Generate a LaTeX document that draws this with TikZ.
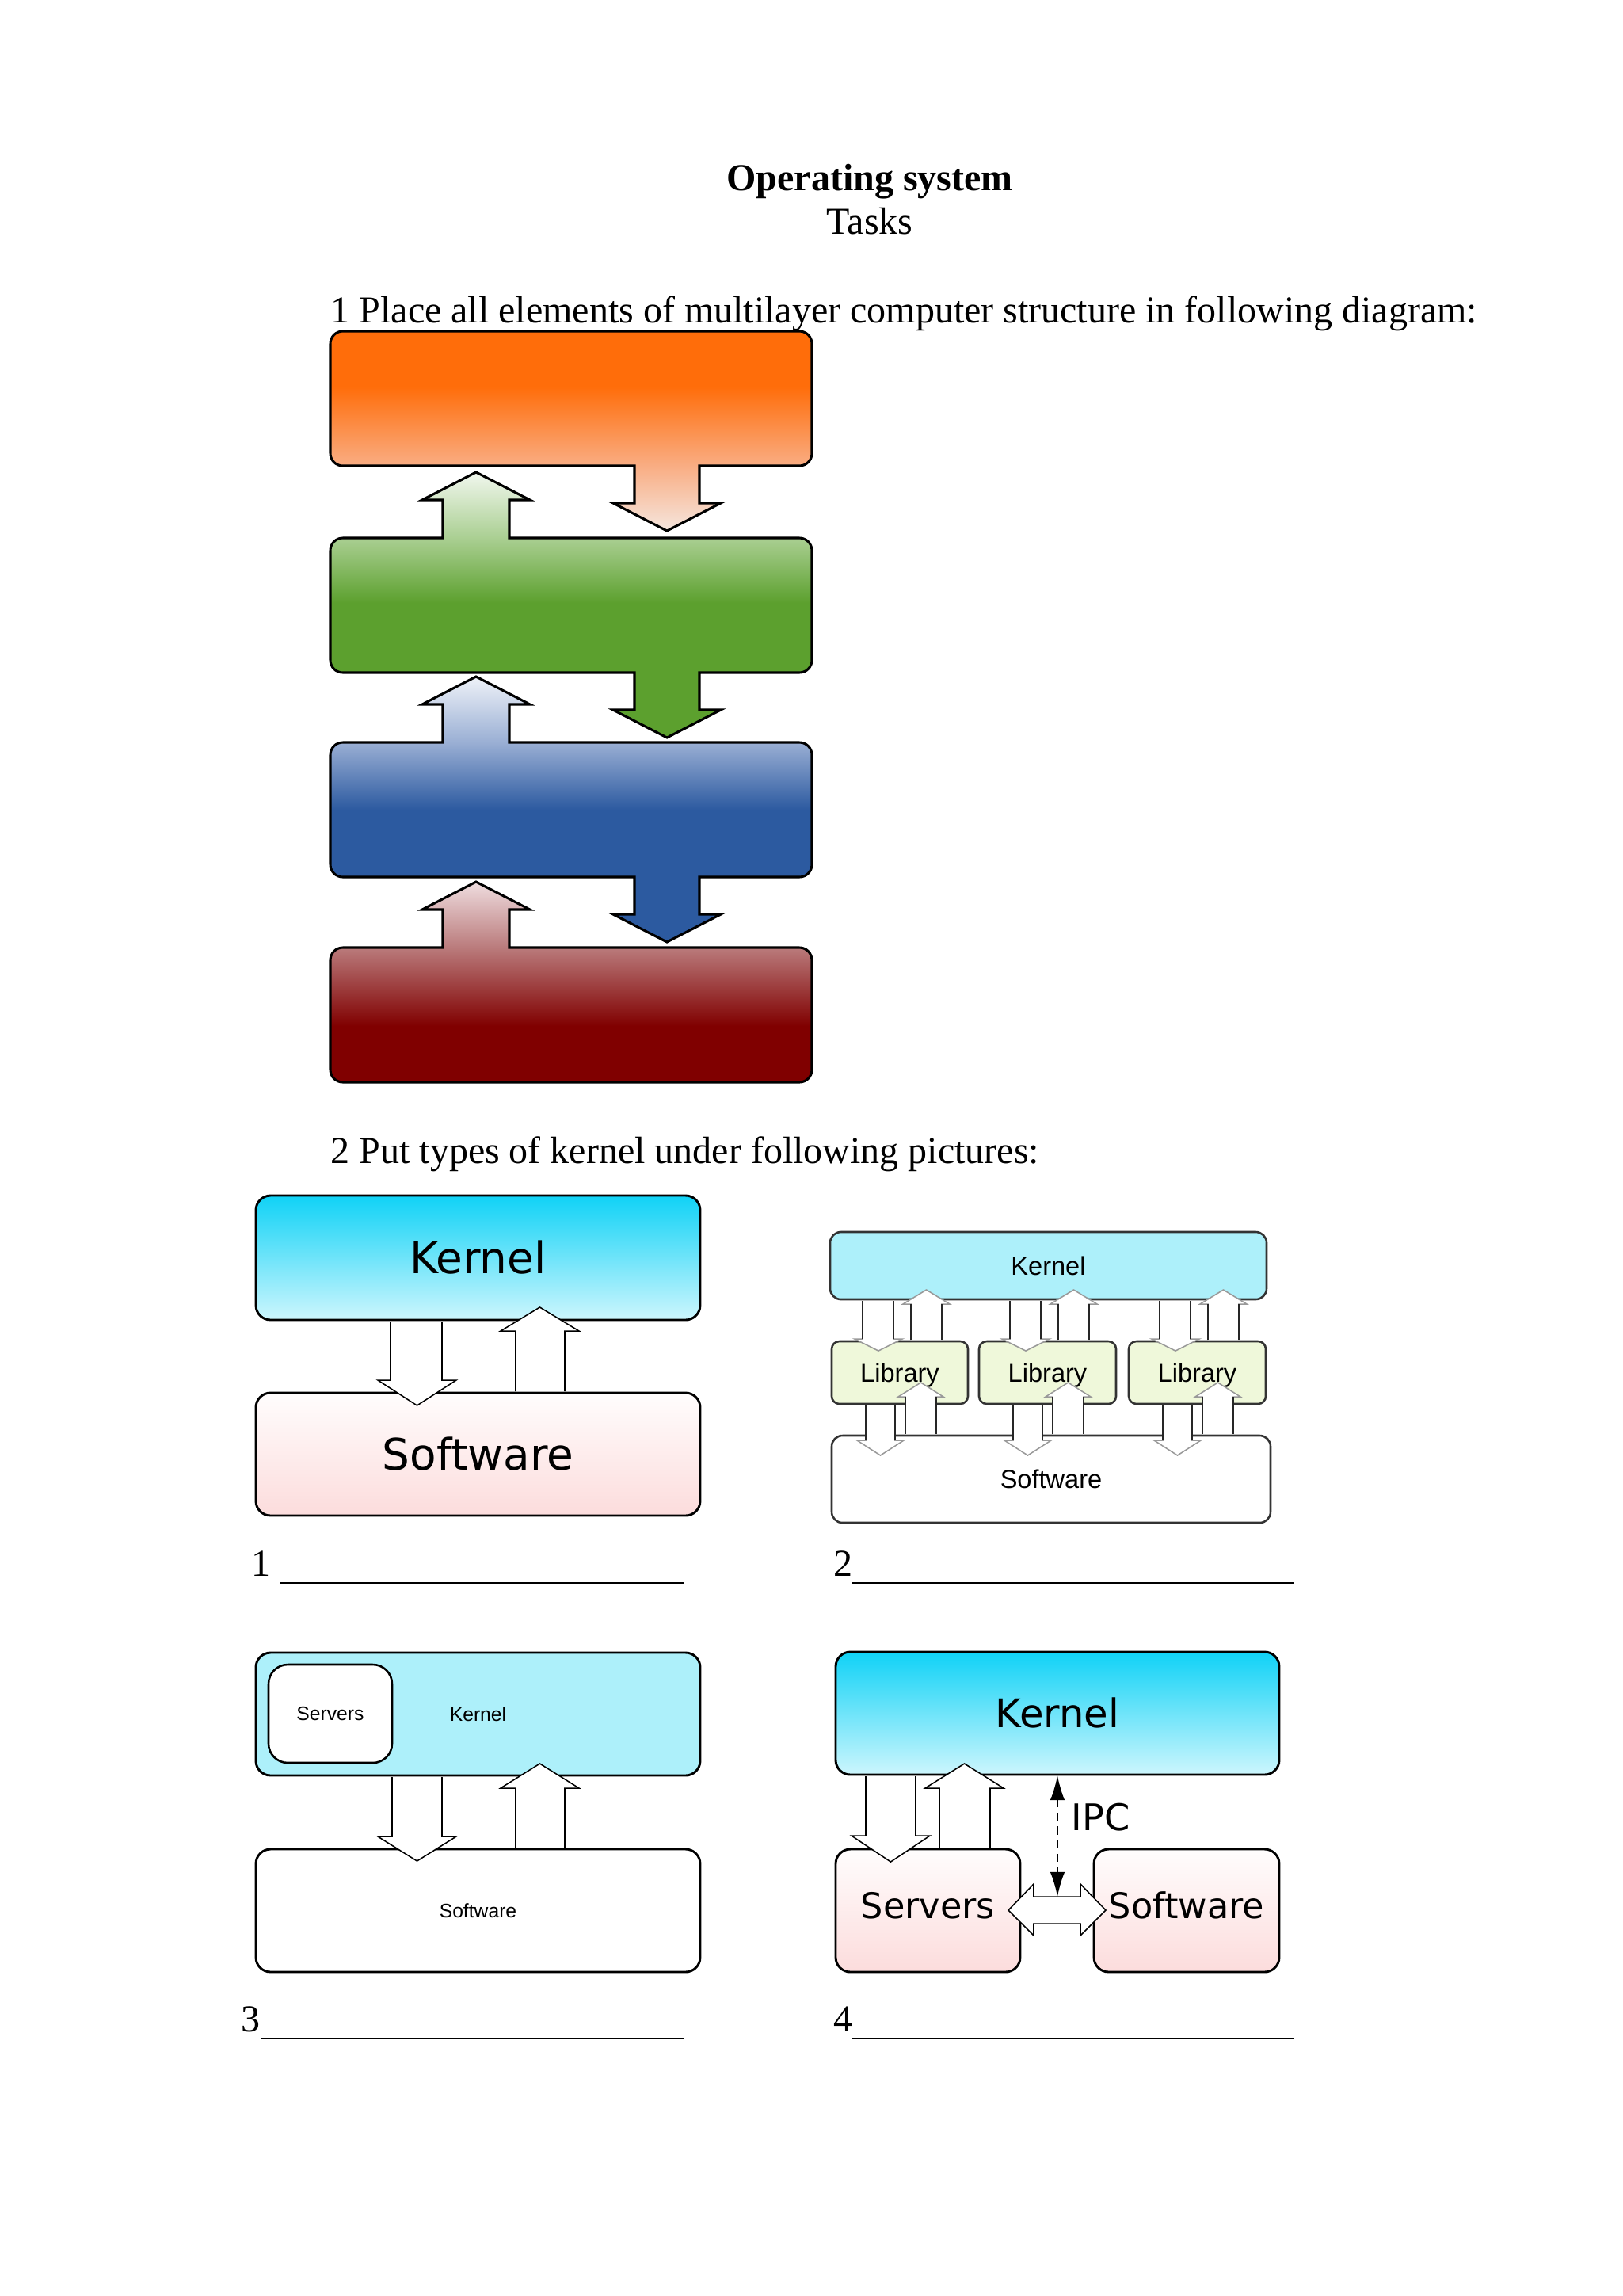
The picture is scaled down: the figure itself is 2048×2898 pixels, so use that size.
\documentclass[tikz,border=0pt]{standalone}
\usepackage{fontspec}
\setmainfont{Liberation Serif}
\newfontfamily\djv{DejaVu Sans}
\newfontfamily\lsans{Liberation Sans}
\usetikzlibrary{arrows.meta}
\newlength\pxu
\setlength\pxu{0.1025390625mm}
% layer colours
\definecolor{orA}{HTML}{FF6D0A}\definecolor{orB}{HTML}{F9AD83}\definecolor{orC}{HTML}{F5E6DE}
\definecolor{grA}{HTML}{F1F7EE}\definecolor{grB}{HTML}{AACF92}\definecolor{grC}{HTML}{5CA02E}
\definecolor{blA}{HTML}{EEF2F8}\definecolor{blB}{HTML}{9AAFD4}\definecolor{blC}{HTML}{2C5AA0}
\definecolor{rdA}{HTML}{EFDDDF}\definecolor{rdB}{HTML}{BA7B7C}\definecolor{rdC}{HTML}{800000}
\definecolor{kTop}{HTML}{10D2F6}\definecolor{kBot}{HTML}{CDF6FD}
\definecolor{sTop}{HTML}{FFFDFD}\definecolor{sBot}{HTML}{FCDCDC}
\definecolor{kflat}{HTML}{ADF0FA}\definecolor{libfill}{HTML}{EFF8DA}
\pgfdeclareverticalshading{orsh}{100bp}{color(0bp)=(orC); color(25bp)=(orC); color(41.3bp)=(orB); color(61.1bp)=(orA); color(100bp)=(orA)}
\pgfdeclareverticalshading{grsh}{100bp}{color(0bp)=(grC); color(50.4bp)=(grC); color(62.6bp)=(grB); color(75bp)=(grA); color(100bp)=(grA)}
\pgfdeclareverticalshading{blsh}{100bp}{color(0bp)=(blC); color(49.9bp)=(blC); color(62.6bp)=(blB); color(75bp)=(blA); color(100bp)=(blA)}
\pgfdeclareverticalshading{rdsh}{100bp}{color(0bp)=(rdC); color(39bp)=(rdC); color(58.6bp)=(rdB); color(75bp)=(rdA); color(100bp)=(rdA)}
% block arrow: shaft left, shaft right, head left, head right, y start, y head base, y tip
\newcommand\blockarrow[7]{\filldraw[blk] ({#1},#5) -- ({#1},#6) -- ({#3},#6) -- ({(#3+#4)/2},#7) -- ({#4},#6) -- ({#2},#6) -- ({#2},#5);}
\newcommand\blockarrowB[7]{\filldraw[blk, draw=black!40] ({#1},#5) -- ({#1},#6) -- ({#3},#6) -- ({(#3+#4)/2},#7) -- ({#4},#6) -- ({#2},#6) -- ({#2},#5);
  \draw[black!85, line width=0.45pt] ({#1},#5) -- ({#1},#6) ({#2},#5) -- ({#2},#6);}
\begin{document}
\begin{tikzpicture}[x=\pxu, y=-\pxu,
  txt/.style={font=\fontsize{14}{16}\selectfont, inner sep=0pt},
  layer/.style={draw=black, line width=0.9pt, line join=miter},
  blk/.style={fill=white, draw=black, line width=0.45pt, line join=miter},
  box/.style={draw=black, line width=0.85pt, rounded corners=1.9mm, inner sep=0pt, text depth=0pt},
  kgrad/.style={top color=kTop, bottom color=kBot},
  sgrad/.style={top color=sTop, bottom color=sBot},
  bigf/.style={font=\djv\fontsize{16}{16}\selectfont, text height=11.7pt},
  midf/.style={font=\lsans\fontsize{9.5}{10}\selectfont, text height=6.8pt},
  smallf/.style={font=\lsans\fontsize{7.2}{8}\selectfont, text height=5.2pt},
  uline/.style={line width=0.6pt}
]
\fill[white] (0,0) rectangle (2048,2898);
\useasboundingbox (0,0) rectangle (2048,2898);

% ---------- heading ----------
\node[txt, anchor=base, font=\fontsize{14}{16}\selectfont\bfseries] (title) at (1098,240) {Operating system};
\node[txt, anchor=base] (tasks) at (1098,295) {Tasks};
\node[txt, anchor=base west] (task1) at (417,407) {1 Place all elements of multilayer computer structure in following diagram:};

% ---------- layered diagram ----------
\begin{scope}[shift={(0,418)}]
\shadedraw[layer, shading=orsh] (433,0) -- (1009,0) .. controls (1018,0) and (1025,7) .. (1025,16) -- (1025,154) .. controls (1025,163) and (1018,170) .. (1009,170) -- (883,170) -- (883,217) -- (910,217) -- (842,252) -- (774,217) -- (801,217) -- (801,170) -- (433,170) .. controls (424,170) and (417,163) .. (417,154) -- (417,16) .. controls (417,7) and (424,0) .. (433,0) -- cycle;
\end{scope}
\begin{scope}[shift={(0,679)}]
\shadedraw[layer, shading=grsh] (433,0) -- (559,0) -- (559,-48) -- (533,-48) -- (601,-83) -- (669,-48) -- (643,-48) -- (643,0) -- (1009,0) .. controls (1018,0) and (1025,7) .. (1025,16) -- (1025,154) .. controls (1025,163) and (1018,170) .. (1009,170) -- (883,170) -- (883,217) -- (910,217) -- (842,252) -- (774,217) -- (801,217) -- (801,170) -- (433,170) .. controls (424,170) and (417,163) .. (417,154) -- (417,16) .. controls (417,7) and (424,0) .. (433,0) -- cycle;
\end{scope}
\begin{scope}[shift={(0,937)}]
\shadedraw[layer, shading=blsh] (433,0) -- (559,0) -- (559,-48) -- (533,-48) -- (601,-83) -- (669,-48) -- (643,-48) -- (643,0) -- (1009,0) .. controls (1018,0) and (1025,7) .. (1025,16) -- (1025,154) .. controls (1025,163) and (1018,170) .. (1009,170) -- (883,170) -- (883,217) -- (910,217) -- (842,252) -- (774,217) -- (801,217) -- (801,170) -- (433,170) .. controls (424,170) and (417,163) .. (417,154) -- (417,16) .. controls (417,7) and (424,0) .. (433,0) -- cycle;
\end{scope}
\begin{scope}[shift={(0,1196)}]
\shadedraw[layer, shading=rdsh] (433,0) -- (559,0) -- (559,-48) -- (533,-48) -- (601,-83) -- (669,-48) -- (643,-48) -- (643,0) -- (1009,0) .. controls (1018,0) and (1025,7) .. (1025,16) -- (1025,154) .. controls (1025,163) and (1018,170) .. (1009,170) -- (433,170) .. controls (424,170) and (417,163) .. (417,154) -- (417,16) .. controls (417,7) and (424,0) .. (433,0) -- cycle;
\end{scope}

\node[txt, anchor=base west] (task2) at (417,1468) {2 Put types of kernel under following pictures:};

% ---------- picture 1 ----------
\node[box, kgrad, bigf, minimum width=561\pxu, minimum height=157\pxu] (k1) at (603.5,1587.5) {Kernel};
\node[box, sgrad, bigf, minimum width=561\pxu, minimum height=155\pxu] (s1) at (603.5,1835.5) {Software};
\blockarrow{493}{558}{477}{576}{1668}{1742}{1774}
\blockarrow{651}{713}{632}{731}{1756}{1680}{1650}
\node[txt, anchor=base west] (n1) at (317,1989) {1};
\coordinate (u1a) at (354,1998); \coordinate (u1b) at (863,1998);
\draw[uline] (u1a) -- (u1b);

% ---------- picture 2 ----------
\node[box, draw=black!80, fill=kflat, midf, rounded corners=1.4mm, line width=0.75pt, minimum width=551\pxu, minimum height=85\pxu] (k2) at (1323.5,1597.5) {Kernel};
\node[box, draw=black!80, fill=libfill, midf, rounded corners=1mm, line width=0.75pt, minimum width=172\pxu, minimum height=79\pxu] (la) at (1136,1732.5) {Library};
\node[box, draw=black!80, fill=libfill, midf, rounded corners=1mm, line width=0.75pt, minimum width=173\pxu, minimum height=79\pxu] (lb) at (1322.5,1732.5) {Library};
\node[box, draw=black!80, fill=libfill, midf, rounded corners=1mm, line width=0.75pt, minimum width=173\pxu, minimum height=79\pxu] (lc) at (1511.5,1732.5) {Library};
\node[box, draw=black!80, fill=white, midf, rounded corners=1.4mm, line width=0.75pt, minimum width=554\pxu, minimum height=110\pxu] (s2) at (1327,1867) {Software};
\foreach \L in {1050,1236,1425} {
  \blockarrowB{\L+39}{\L+78}{\L+29}{\L+89}{1642}{1690}{1705}
  \blockarrowB{\L+100}{\L+139}{\L+90}{\L+149}{1691}{1646}{1628}
  \blockarrowB{\L+43}{\L+80}{\L+32}{\L+91}{1774}{1818}{1837}
  \blockarrowB{\L+93}{\L+132}{\L+84}{\L+141}{1810}{1763}{1745}
}
\node[txt, anchor=base west] (n2) at (1052,1989) {2};
\coordinate (u2a) at (1076,1998); \coordinate (u2b) at (1634,1998);
\draw[uline] (u2a) -- (u2b);

% ---------- picture 3 ----------
\node[box, fill=kflat, smallf, minimum width=561\pxu, minimum height=155\pxu] (k3) at (603.5,2163.5) {Kernel};
\node[box, fill=white, smallf, rounded corners=2.5mm, line width=0.75pt, minimum width=156\pxu, minimum height=124\pxu] (sv3) at (417,2163) {Servers};
\node[box, fill=white, smallf, minimum width=561\pxu, minimum height=155\pxu] (s3) at (603.5,2411.5) {Software};
\blockarrow{495}{558}{477}{576}{2243}{2318}{2349}
\blockarrow{651}{713}{632}{731}{2332}{2257}{2226}
\node[txt, anchor=base west] (n3) at (304,2564) {3};
\coordinate (u3a) at (329,2573); \coordinate (u3b) at (863,2573);
\draw[uline] (u3a) -- (u3b);

% ---------- picture 4 ----------
\node[box, kgrad, font=\djv\fontsize{14.5}{15}\selectfont, text height=10.6pt, minimum width=560\pxu, minimum height=155\pxu] (k4) at (1335,2162.5) {Kernel};
\node[box, sgrad, font=\djv\fontsize{13}{14}\selectfont, text height=9.5pt, text depth=3.5pt, minimum width=233\pxu, minimum height=155\pxu] (sv4) at (1171.5,2411.5) {Servers};
\node[box, sgrad, font=\djv\fontsize{13}{14}\selectfont, text height=9.5pt, text depth=3.5pt, minimum width=234\pxu, minimum height=155\pxu] (sw4) at (1498,2411.5) {Software};
\blockarrow{1093}{1156}{1075}{1174}{2242}{2317}{2350}
\blockarrow{1186}{1250}{1168}{1267}{2332}{2257}{2226}
\filldraw[blk] (1273,2411) -- (1305,2378) -- (1305,2394) -- (1364,2394) -- (1364,2378) -- (1396,2411) -- (1364,2443) -- (1364,2428) -- (1305,2428) -- (1305,2443) -- cycle;
\coordinate (ipcT) at (1335,2241);
\coordinate (ipcB) at (1335,2394);
\draw[densely dashed, line width=0.6pt, {Latex[length=3.2mm,width=1.9mm]}-{Latex[length=3.2mm,width=1.9mm]}] (ipcT) -- (ipcB);
\node[inner sep=0pt, anchor=base west, font=\djv\fontsize{13.5}{14}\selectfont] (ipc) at (1352,2310) {IPC};
\node[txt, anchor=base west] (n4) at (1052,2564) {4};
\coordinate (u4a) at (1076,2573); \coordinate (u4b) at (1634,2573);
\draw[uline] (u4a) -- (u4b);
\end{tikzpicture}
\end{document}
